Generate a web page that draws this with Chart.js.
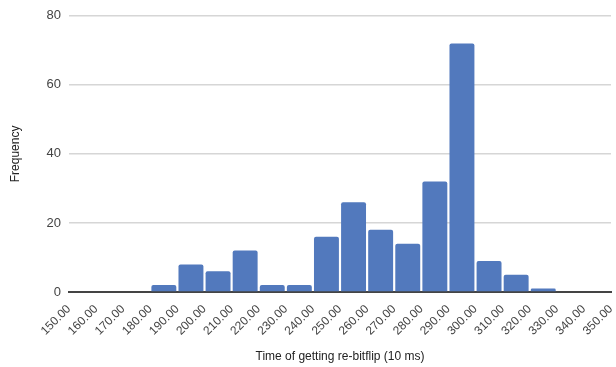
<!DOCTYPE html>
<html>
<head>
<meta charset="utf-8">
<style>
  html, body { margin: 0; padding: 0; background: #fff; }
  #wrap { width: 616px; height: 367px; }
</style>
</head>
<body>
<div id="wrap"><canvas id="histChart" width="616" height="367"></canvas></div>

<script src="https://cdn.jsdelivr.net/npm/chart.js"></script>
<script>
// histogram bins (10 ms wide) and how many samples fell into each
const binStarts = [150, 160, 170, 180, 190, 200, 210, 220, 230, 240, 250, 260, 270, 280, 290, 300, 310, 320, 330, 340];
const binWidth = 10;
const counts = [0, 0, 0, 2, 8, 6, 12, 2, 2, 16, 26, 18, 14, 32, 72, 9, 5, 1, 0, 0];
const yTicks = [0, 20, 40, 60, 80];

const points = binStarts.map((s, i) => ({ x: s + binWidth / 2, y: counts[i] }));

const ctx = document.getElementById('histChart').getContext('2d');
const font = "'Liberation Sans', Arial, sans-serif";

new Chart(ctx, {
    type: 'bar',
    data: {
        datasets: [{
            label: 'Frequency',
            data: points,
            backgroundColor: '#5279bd',
            borderRadius: 2,
            borderSkipped: 'bottom',
            barPercentage: 0.92,
            categoryPercentage: 1
        }]
    },
    options: {
        responsive: false,
        animation: false,
        layout: { padding: { top: 15, right: 5, left: 0, bottom: 0 } },
        plugins: {
            legend: { display: false },
            tooltip: { enabled: false }
        },
        scales: {
            x: {
                type: 'linear',
                min: binStarts[0],
                max: binStarts[binStarts.length - 1] + binWidth,
                offset: false,
                grid: { display: false, offset: false, drawTicks: false },
                border: { display: true, color: '#444', width: 2 },
                ticks: {
                    stepSize: binWidth,
                    autoSkip: false,
                    minRotation: 45,
                    maxRotation: 45,
                    padding: 10,
                    color: '#444',
                    font: { family: font, size: 12 },
                    callback: v => Number(v).toFixed(2)
                },
                title: {
                    display: true,
                    text: 'Time of getting re-bitflip (10 ms)',
                    color: '#222',
                    font: { family: font, size: 12 },
                    padding: { top: 10, bottom: 3 }
                },
                afterFit: s => {
                    s.height = 75;
                    s.paddingLeft = 0;
                    s.paddingRight = 0;
                }
            },
            y: {
                min: 0,
                max: yTicks[yTicks.length - 1],
                afterBuildTicks: s => { s.ticks = yTicks.map(v => ({ value: v })); },
                grid: { color: '#d6d6d6', lineWidth: 1.5, drawTicks: false },
                border: { display: false },
                ticks: {
                    padding: 8,
                    color: '#444',
                    font: { family: font, size: 13 }
                },
                title: {
                    display: true,
                    text: 'Frequency',
                    color: '#222',
                    font: { family: font, size: 12 },
                    padding: { top: 8, bottom: 4 }
                },
                afterFit: s => { s.width = 69; }
            }
        }
    }
});
</script>
</body>
</html>
